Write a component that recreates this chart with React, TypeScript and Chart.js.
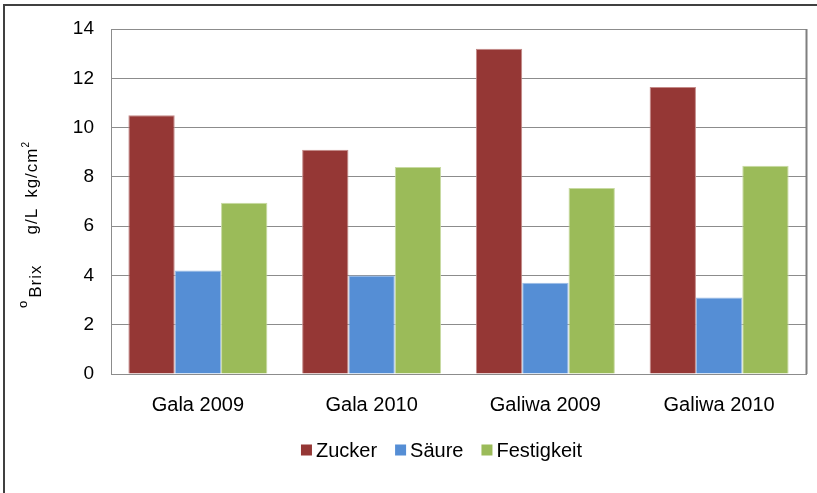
import React, { useEffect, useRef } from "react";
import { Chart, registerables } from "chart.js";

Chart.register(...registerables);

const categories = ["Gala 2009", "Gala 2010", "Galiwa 2009", "Galiwa 2010"];
const seriesNames = ["Zucker", "Säure", "Festigkeit"];
const zucker = [10.5, 9.1, 13.2, 11.65];
const saeure = [4.2, 4.0, 3.7, 3.1];
const festigkeit = [6.95, 8.4, 7.55, 8.45];
const yMin = 0;
const yMax = 14;
const yStep = 2;

const FONT = "'Liberation Sans', Arial, sans-serif";

const yTitlePlugin = {
  id: "yTitleCustom",
  afterDraw(chart: any) {
    const ctx = chart.ctx;
    ctx.save();
    ctx.translate(37, 308);
    ctx.rotate(-Math.PI / 2);
    ctx.fillStyle = "#000";
    ctx.textBaseline = "alphabetic";
    ctx.textAlign = "left";
    const parts = [
      { t: "o", size: 13, dy: -10, gap: 0 },
      { t: "Brix", size: 17, dy: 3.5, gap: 3 },
      { t: "g/L", size: 17, dy: 0, gap: 30 },
      { t: "kg/cm", size: 17, dy: 0, gap: 10 },
      { t: "2", size: 10, dy: -8, gap: 0 },
    ];
    let x = 0;
    for (const p of parts) {
      x += p.gap;
      ctx.font = `${p.size}px ${FONT}`;
      (ctx as any).letterSpacing = p.size >= 17 ? "1px" : "0px";
      ctx.fillText(p.t, x, p.dy);
      x += ctx.measureText(p.t).width;
    }
    ctx.restore();
  },
};

const rightEdgePlugin = {
  id: "rightEdge",
  afterDatasetsDraw(chart: any) {
    const { ctx, chartArea } = chart;
    ctx.save();
    ctx.strokeStyle = "#7f7f7f";
    ctx.lineWidth = 2;
    ctx.beginPath();
    ctx.moveTo(chartArea.right + 0.5, chartArea.top);
    ctx.lineTo(chartArea.right + 0.5, chartArea.bottom);
    ctx.stroke();
    ctx.restore();
  },
};

// Legend drawn from the chart's datasets (labels + colours)
const legendPlugin = {
  id: "customLegend",
  afterDraw(chart: any) {
    const ctx = chart.ctx;
    const ds = chart.data.datasets;
    const fontSize = 20;
    const box = 11;
    const textGap = 4;
    const itemGap = 18;
    ctx.save();
    ctx.font = `${fontSize}px ${FONT}`;
    ctx.textBaseline = "middle";
    ctx.textAlign = "left";
    const widths = ds.map((d: any) => box + textGap + ctx.measureText(d.label).width);
    const total = widths.reduce((a: number, b: number) => a + b, 0) + itemGap * (ds.length - 1);
    const centerX = 441.5;
    const centerY = 450;
    let x = centerX - total / 2;
    ds.forEach((d: any, i: number) => {
      ctx.fillStyle = d.backgroundColor;
      ctx.fillRect(x, centerY - box / 2, box, box);
      ctx.fillStyle = "#000";
      ctx.fillText(d.label, x + box + textGap, centerY + 1);
      x += widths[i] + itemGap;
    });
    ctx.restore();
  },
};

export default function App() {
  const ref = useRef<HTMLCanvasElement | null>(null);

  useEffect(() => {
    if (!ref.current) return;
    const chart = new Chart(ref.current, {
      type: "bar",
      data: {
        labels: categories,
        datasets: [
          {
            label: seriesNames[0],
            data: zucker,
            backgroundColor: "#953735",
            borderColor: "#c48a88",
            borderWidth: 1,
          },
          {
            label: seriesNames[1],
            data: saeure,
            backgroundColor: "#558ed5",
            borderColor: "#9dbde6",
            borderWidth: 1,
          },
          {
            label: seriesNames[2],
            data: festigkeit,
            backgroundColor: "#9bbb59",
            borderColor: "#c8daa2",
            borderWidth: 1,
          },
        ],
      },
      options: {
        responsive: false,
        animation: false,
        devicePixelRatio: 1,
        layout: { padding: { left: 0, right: 11, top: 29, bottom: 59 } },
        datasets: {
          bar: { categoryPercentage: 0.8, barPercentage: 1.0 },
        },
        plugins: {
          legend: { display: false },
          tooltip: { enabled: false },
          title: { display: false },
        },
        scales: {
          x: {
            grid: { display: false, drawTicks: false },
            border: { color: "#8c8c8c", width: 1 },
            ticks: {
              color: "#000",
              padding: 19,
              font: { family: FONT, size: 20 },
            },
            afterFit(s: any) {
              s.height = 60;
            },
          },
          y: {
            min: yMin,
            max: yMax,
            grid: { color: "#8c8c8c", lineWidth: 1, drawTicks: false },
            border: { color: "#8c8c8c", width: 1 },
            ticks: {
              stepSize: yStep,
              color: "#000",
              padding: 17,
              font: { family: FONT, size: 19 },
            },
            afterFit(s: any) {
              s.width = 111;
            },
          },
        },
      },
      plugins: [yTitlePlugin, rightEdgePlugin, legendPlugin],
    });
    return () => chart.destroy();
  }, []);

  return (
    <div style={{ position: "fixed", left: 0, top: 0, width: 817, height: 493, background: "#fff", overflow: "hidden" }}>
      <div
        style={{
          position: "absolute",
          left: 3,
          top: 4,
          width: 814,
          height: 489,
          borderLeft: "2px solid #404040",
          borderTop: "2px solid #404040",
          boxSizing: "border-box",
        }}
      />
      <canvas ref={ref} width={817} height={493} style={{ position: "absolute", left: 0, top: 0, display: "block" }} />
    </div>
  );
}
